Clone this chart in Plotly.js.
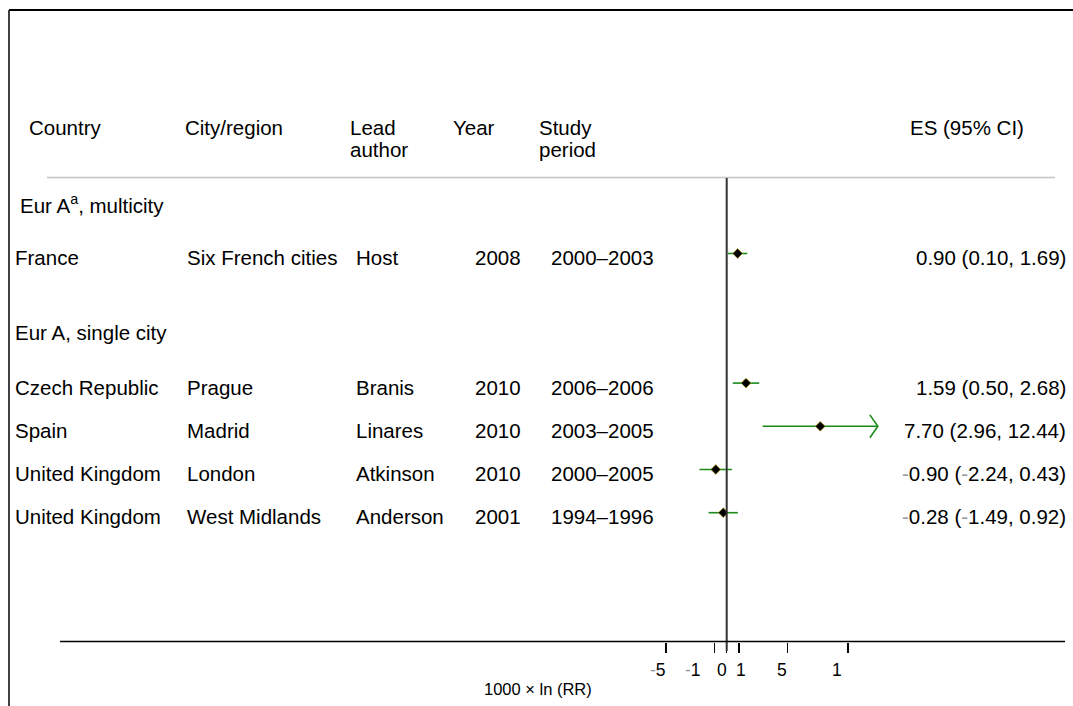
<!DOCTYPE html>
<html><head><meta charset="utf-8">
<script src="https://cdn.plot.ly/plotly-3.0.1.min.js"></script>
<style>html,body{margin:0;padding:0;background:#fff}#chart{width:1073px;height:706px}</style>
</head><body><div id="chart"></div>
<script>
// ---- data ----
const countries = ['France', 'Czech Republic', 'Spain', 'United Kingdom', 'United Kingdom'];
const cities    = ['Six French cities', 'Prague', 'Madrid', 'London', 'West Midlands'];
const authors   = ['Host', 'Branis', 'Linares', 'Atkinson', 'Anderson'];
const years     = ['2008', '2010', '2010', '2010', '2001'];
const periods   = ['2000–2003', '2006–2006', '2003–2005', '2000–2005', '1994–1996'];
const es = [0.90, 1.59, 7.70, -0.90, -0.28];
const lo = [0.10, 0.50, 2.96, -2.24, -1.49];
const hi = [1.69, 2.68, 12.44, 0.43, 0.92];
const rowPos = [0, 3, 4, 5, 6];
const arrowFlag = [false, false, true, false, false];
const groupLabels = ['Eur A<sup>a</sup>, multicity', 'Eur A, single city'];
const groupPos = [-1.15, 1.84];
const headerLine1 = ['Country', 'City/region', 'Lead', 'Year', 'Study'];
const headerLine2 = ['', '', 'author', '', 'period'];
const esHeader = 'ES (95% CI)';
const tickVals = [-5, -1, 0, 1, 5, 10];
const tickLabels = ['-5', '-1', '0', '1', '5', '1'];
const axisTitle = '1000 × ln (RR)';

// ---- geometry / style (pixels) ----
const W = 1073, H = 706;
const X0PX = 726.7, XUNIT = 12.15;   // px of x=0, px per unit
const R0PX = 253.5, RUNIT = 43.2;    // px of row 0, px per row
const FONT = 'Liberation Sans, Arial, sans-serif';
const FS = 20.5;
const GREEN = '#1b8c1b';
const tickShift = [-8, -22, -5, 2, -5, -11];  // label nudges as in the original
const px = p => p / W;
const py = p => 1 - p / H;

const MINUS = '<span style="color:#9a9a9a">-</span>';
const fmt = v => (v < 0 ? MINUS : '') + Math.abs(v).toFixed(2);
const esText = es.map((v, i) => fmt(v) + ' (' + fmt(lo[i]) + ', ' + fmt(hi[i]) + ')');
const tickText = tickLabels.map(t => t.replace('-', MINUS));

const traces = [{
  type: 'scatter', mode: 'markers', x: es, y: rowPos, cliponaxis: false,
  error_x: {type: 'data', symmetric: false,
    array: hi.map((h, i) => h - es[i]), arrayminus: lo.map((l, i) => es[i] - l),
    color: GREEN, thickness: 1.6, width: 0},
  marker: {symbol: 'diamond', size: 7.5, color: '#000', line: {color: '#b89a00', width: 0.6}},
  hoverinfo: 'skip'
}];
// arrowheads for clipped CIs
const ax = [], ay = [];
const backX = 8 / XUNIT, halfY = 11.4 / RUNIT;
arrowFlag.forEach((f, i) => {
  if (f) { ax.push(hi[i] - backX, hi[i], hi[i] - backX, null); ay.push(rowPos[i] - halfY, rowPos[i], rowPos[i] + halfY, null); }
});
traces.push({type: 'scatter', mode: 'lines', x: ax, y: ay, line: {color: GREEN, width: 1.6}, cliponaxis: false, hoverinfo: 'skip'});

const ann = [];
const txt = (text, x, y, opts) => Object.assign({text, x, y, xref: 'paper', yref: 'y', xanchor: 'left', yanchor: 'middle',
  showarrow: false, font: {family: FONT, size: FS, color: '#000'}}, opts || {});
const colX = [13, 185, 354, 473, 549];
const cols = [countries, cities, authors, years, periods];
rowPos.forEach((r, i) => {
  cols.forEach((c, k) => ann.push(txt(c[i], px(colX[k]), r, {yshift: -4})));
  ann.push(txt(esText[i], px(1068), r, {xanchor: 'right', yshift: -4}));
});
const groupX = [18, 13];
groupLabels.forEach((g, i) => ann.push(txt(g, px(groupX[i]), groupPos[i])));
const hdrX = [27, 183, 348, 451, 537];
headerLine1.forEach((h, k) => {
  ann.push(txt(h, px(hdrX[k]), py(128), {yref: 'paper'}));
  if (headerLine2[k]) ann.push(txt(headerLine2[k], px(hdrX[k]), py(149), {yref: 'paper'}));
});
ann.push(txt(esHeader, px(1026), py(128), {yref: 'paper', xanchor: 'right'}));
// tick labels placed at the tick values, nudged apart like the original
tickVals.forEach((v, i) => ann.push(txt(tickText[i], v, py(669.5), {xref: 'x', yref: 'paper', xanchor: 'center',
  xshift: tickShift[i], font: {family: FONT, size: 17.5, color: '#000'}})));
ann.push(txt(axisTitle, px(538), py(689), {yref: 'paper', xanchor: 'center', font: {family: FONT, size: 16.5, color: '#000'}}));

const shapes = [
  {type: 'line', xref: 'paper', yref: 'paper', x0: px(9), x1: px(W + 5), y0: py(10), y1: py(10), line: {color: '#000', width: 2}},
  {type: 'line', xref: 'paper', yref: 'paper', x0: px(9), x1: px(9), y0: py(10), y1: py(H + 5), line: {color: '#000', width: 1.5}},
  {type: 'line', xref: 'paper', yref: 'paper', x0: px(47), x1: px(1055), y0: py(177.5), y1: py(177.5), line: {color: '#c4c4c4', width: 1.5}},
  {type: 'line', xref: 'x', yref: 'paper', x0: 0, x1: 0, y0: py(178), y1: py(651), line: {color: '#333', width: 2}},
  {type: 'line', xref: 'paper', yref: 'paper', x0: px(60), x1: px(1065), y0: py(641.5), y1: py(641.5), line: {color: '#000', width: 1.5}}
];

const layout = {
  width: W, height: H, margin: {l: 0, r: 0, t: 0, b: 0},
  paper_bgcolor: '#fff', plot_bgcolor: '#fff', showlegend: false,
  xaxis: {range: [-X0PX / XUNIT, (W - X0PX) / XUNIT], anchor: 'free', position: 1 - 641.5 / H,
    showgrid: false, zeroline: false, showline: false, ticks: 'outside', ticklen: 10, tickwidth: 1.5, tickcolor: '#000',
    tickvals: tickVals, showticklabels: false},
  yaxis: {range: [(H - R0PX) / RUNIT, -R0PX / RUNIT], showgrid: false, zeroline: false, showline: false,
    showticklabels: false, ticks: ''},
  annotations: ann, shapes: shapes
};
Plotly.newPlot('chart', traces, layout, {displayModeBar: false, staticPlot: true});
</script></body></html>
